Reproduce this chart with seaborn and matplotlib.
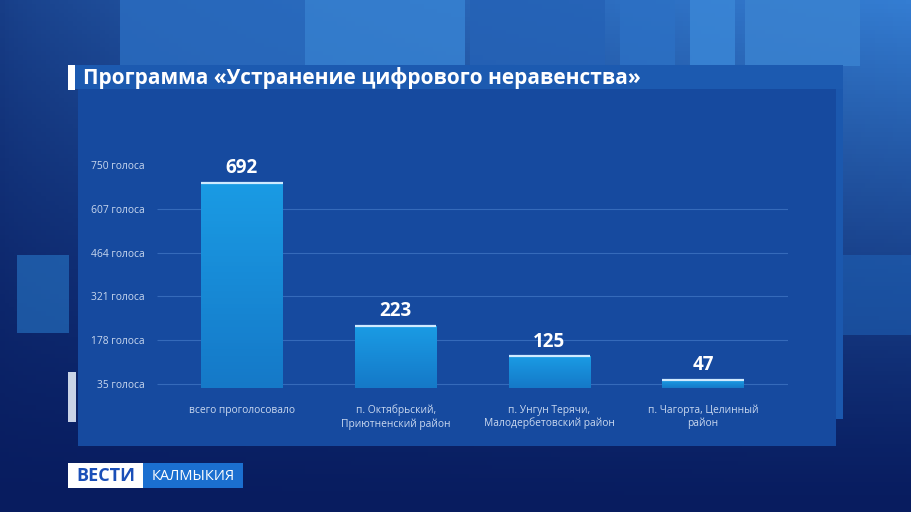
import numpy as np
import matplotlib.pyplot as plt
import seaborn as sns
from matplotlib.patches import Rectangle
from matplotlib.colors import LinearSegmentedColormap

# Chart data
categories = [
    "всего проголосовало",
    "п. Октябрьский,\nПриютненский район",
    "п. Унгун Терячи,\nМалодербетовский район",
    "п. Чагорта, Целинный\nрайон",
]
votes = [692, 223, 125, 47]
y_ticks = [35, 178, 321, 464, 607, 750]
y_tick_labels = [f"{v} голоса" for v in y_ticks]
title = "Программа «Устранение цифрового неравенства»"

sns.set_theme(style="white")
plt.rcParams["font.family"] = ["Open Sans", "DejaVu Sans"]

W, H = 911, 512
fig = plt.figure(figsize=(W / 100, H / 100), dpi=100)

# Background: broadcast-style blue studio backdrop
bg = fig.add_axes([0, 0, 1, 1], zorder=-2)
bg.set_xlim(0, W)
bg.set_ylim(H, 0)
bg.axis("off")
xx, yy = np.meshgrid(np.linspace(0, 1, 200), np.linspace(0, 1, 120))
t = (1 - yy) ** 1.3 * (0.35 + 0.65 * xx ** 0.7)
dark = np.array([8, 28, 95]) / 255
light = np.array([52, 125, 210]) / 255
rgb = dark + (light - dark) * t[..., None]
bg.imshow(rgb, extent=[0, W, H, 0], aspect="auto")

top_panels = [
    (120, 185, "#2a6cc0"), (305, 160, "#3782d2"), (470, 135, "#2562b6"),
    (620, 55, "#2c70c4"), (690, 45, "#3a86d6"), (745, 115, "#3a82d0"),
]
for x0, w, c in top_panels:
    bg.add_patch(Rectangle((x0, 0), w, 66, color=c, alpha=0.85, lw=0))
bg.add_patch(Rectangle((17, 255), 52, 78, color="#2a7ed0", alpha=0.55, lw=0))
bg.add_patch(Rectangle((843, 255), 68, 80, color="#1f63b8", alpha=0.55, lw=0))

# main panels
bg.add_patch(Rectangle((68, 65), 775, 24, color="#1c5ab0", lw=0))
bg.add_patch(Rectangle((78, 89), 758, 357, color="#164a9f", lw=0))
bg.add_patch(Rectangle((836, 89), 7, 330, color="#1b58ae", lw=0))

# title with white marker
bg.add_patch(Rectangle((68, 65), 7, 25, color="white", lw=0))
bg.text(83, 78, title, color="white", fontsize=15.0, fontweight="bold",
        va="center", ha="left")

# small white accent at left
bg.add_patch(Rectangle((68, 372), 8, 50, color="#dfe8f6", alpha=0.9, lw=0))

# logo
bg.add_patch(Rectangle((68, 463), 75, 25, color="white", lw=0))
bg.add_patch(Rectangle((143, 463), 100, 25, color="#1b6fd0", lw=0))
bg.text(105.5, 476, "ВЕСТИ", color="#1a4fb8", fontsize=13, fontweight="bold",
        ha="center", va="center")
bg.text(193, 477, "КАЛМЫКИЯ", color="white", fontsize=10.5,
        ha="center", va="center")

# Chart axes
left, right = 157 / W, 788 / W
bottom, top = 1 - 388 / H, 1 - 160 / H
ax = fig.add_axes([left, bottom, right - left, top - bottom])
ax.set_facecolor("none")

bar_color = "#1794dc"
sns.barplot(x=categories, y=votes, color=bar_color, saturation=1,
            width=0.53, edgecolor="none", linewidth=0, ax=ax, zorder=3)

# vertical gradient inside each bar
bar_cmap = LinearSegmentedColormap.from_list("bar", ["#1579c8", "#1a9be4"])
for patch in ax.patches:
    x0, y0 = patch.get_x(), patch.get_y()
    w, h = patch.get_width(), patch.get_height()
    im = ax.imshow(np.linspace(0, 1, 64)[:, None], cmap=bar_cmap,
                   extent=[x0, x0 + w, 22, y0 + h], origin="lower",
                   aspect="auto", zorder=3.5)
    im.set_clip_path(patch)
ax.set_xlim(-0.553, 3.553)
ax.set_ylim(22, 766)

# bright top edge of each bar and value labels
for i, v in enumerate(votes):
    ax.hlines(v, i - 0.265, i + 0.265, color="#cfeaff", lw=1.6, zorder=4)
    ax.text(i, v + 16, str(v), color="white", fontsize=13.5,
            fontweight="bold", ha="center", va="bottom", zorder=5)

ax.set_yticks(y_ticks)
ax.set_yticklabels(y_tick_labels)
# gridlines (none at the top tick)
ax.hlines(y_ticks[:-1], -0.553, 3.553, color="#5d93dc", alpha=0.45,
          lw=0.8, zorder=1)
ax.grid(False)
for s in ax.spines.values():
    s.set_visible(False)
ax.tick_params(axis="y", length=0, pad=9, labelsize=7.4, labelcolor="#c9d8ef")
ax.tick_params(axis="x", length=0, pad=12, labelsize=7.4, labelcolor="#c9d8ef")
for lbl in ax.get_xticklabels():
    lbl.set_linespacing(1.2)
ax.set_xlabel("")
ax.set_ylabel("")

fig.savefig("out.png", dpi=100)
